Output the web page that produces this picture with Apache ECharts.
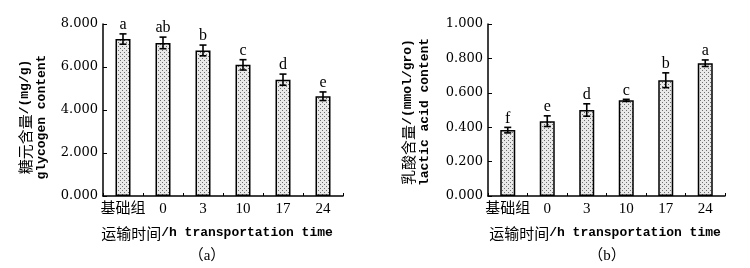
<!DOCTYPE html>
<html>
<head>
<meta charset="utf-8">
<script src="https://cdn.jsdelivr.net/npm/echarts@6/dist/echarts.min.js"></script>
<style>
html,body{margin:0;padding:0;background:#fff;}
#chart{width:750px;height:268px;}
</style>
</head>
<body>
<div id="chart"></div>
<script>
// ---- data ----
const categories = ['基础组', '0', '3', '10', '17', '24'];
const glycogen = [7.30, 7.12, 6.77, 6.10, 5.41, 4.64];
const glycogenErr = [0.24, 0.27, 0.25, 0.24, 0.26, 0.20];
const glycogenLetters = ['a', 'ab', 'b', 'c', 'd', 'e'];
const lactic = [0.383, 0.435, 0.500, 0.556, 0.673, 0.772];
const lacticErr = [0.016, 0.031, 0.036, 0.006, 0.043, 0.019];
const lacticLetters = ['f', 'e', 'd', 'c', 'b', 'a'];
const glycogenTicks = [0, 2, 4, 6, 8];
const lacticTicks = [0, 0.2, 0.4, 0.6, 0.8, 1.0];

const MONO = '"Liberation Mono", "Noto Sans CJK SC", monospace';
const SERIF = '"Liberation Serif", "Noto Sans CJK SC", serif';
const DSERIF = '"DejaVu Serif", serif';
const CJK = '"Noto Sans CJK SC", sans-serif';

// dotted fill pattern
const pc = document.createElement('canvas');
pc.width = 4; pc.height = 4;
const pctx = pc.getContext('2d');
pctx.fillStyle = '#e9e9e9';
pctx.fillRect(0, 0, 4, 4);
pctx.fillStyle = '#6e6e6e';
pctx.fillRect(0, 0, 1, 1);
pctx.fillRect(2, 2, 1, 1);
const pattern = { image: pc, repeat: 'repeat' };

const richStyles = {
  c: { fontFamily: CJK, fontSize: 15, fill: '#000', color: '#000' },
  m: { fontFamily: MONO, fontSize: 13, fontWeight: 'bold', fill: '#000', color: '#000' }
};

function makeX(gi) {
  return {
    gridIndex: gi, type: 'category', data: categories,
    axisLine: { lineStyle: { color: '#000', width: 1.5 } },
    axisTick: { show: true, inside: true, length: 3, lineStyle: { color: '#000', width: 1 } },
    axisLabel: { color: '#000', fontSize: 15, margin: 6, fontFamily: SERIF, interval: 0 }
  };
}
function makeY(gi, ticks) {
  return {
    gridIndex: gi, type: 'value', min: ticks[0], max: ticks[ticks.length - 1],
    interval: ticks[1] - ticks[0],
    axisLine: { show: true, lineStyle: { color: '#000', width: 1.5 } },
    axisTick: { show: true, inside: true, length: 4, lineStyle: { color: '#000', width: 1 } },
    splitLine: { show: false },
    axisLabel: { color: '#000', fontSize: 13, margin: 5, fontFamily: DSERIF,
      formatter: v => v.toFixed(3) }
  };
}
function barSeries(gi, vals) {
  return {
    type: 'bar', xAxisIndex: gi, yAxisIndex: gi, data: vals, barWidth: 15,
    itemStyle: { color: pattern, borderColor: '#000', borderWidth: 1.5 },
    silent: true
  };
}
function errSeries(gi, vals, errs, letters) {
  return {
    type: 'custom', xAxisIndex: gi, yAxisIndex: gi, z: 5,
    data: vals.map((v, i) => [i, v, errs[i]]),
    encode: { x: 0, y: 1 },
    renderItem: function (params, api) {
      const i = api.value(0), v = api.value(1), e = api.value(2);
      const top = api.coord([i, v + e]);
      const bot = api.coord([i, v - e]);
      const cw = 3.5;
      const ls = { stroke: '#000', lineWidth: 1.6 };
      return {
        type: 'group',
        children: [
          { type: 'line', shape: { x1: top[0], y1: top[1], x2: bot[0], y2: bot[1] }, style: ls },
          { type: 'line', shape: { x1: top[0] - cw, y1: top[1], x2: top[0] + cw, y2: top[1] }, style: ls },
          { type: 'line', shape: { x1: bot[0] - cw, y1: bot[1], x2: bot[0] + cw, y2: bot[1] }, style: ls },
          { type: 'text', style: { text: letters[params.dataIndex], x: top[0], y: top[1] - 1,
              align: 'center', verticalAlign: 'bottom', fill: '#000', fontSize: 16, fontFamily: SERIF } }
        ]
      };
    }
  };
}
function richText(cjk, latin, x, y, rot) {
  const el = { type: 'text', x: x, y: y,
    style: { text: '{c|' + cjk + '}{m|' + latin + '}', rich: richStyles,
      align: 'center', verticalAlign: 'middle', fill: '#000' } };
  if (rot) el.rotation = Math.PI / 2;
  return el;
}
function monoText(text, x, y, rot) {
  const el = { type: 'text', x: x, y: y,
    style: { text: text, align: 'center', verticalAlign: 'middle', fill: '#000',
      fontSize: 13, fontWeight: 'bold', fontFamily: MONO } };
  if (rot) el.rotation = Math.PI / 2;
  return el;
}
function capText(text, x, y) {
  return { type: 'text', x: x, y: y,
    style: { text: text, align: 'center', verticalAlign: 'middle', fill: '#000',
      fontSize: 15, fontFamily: SERIF } };
}

const chart = echarts.init(document.getElementById('chart'), null, { renderer: 'canvas' });
chart.setOption({
  animation: false,
  backgroundColor: '#fff',
  grid: [
    { left: 103, top: 24, width: 240, height: 172 },
    { left: 488, top: 24, width: 237, height: 172 }
  ],
  xAxis: [makeX(0), makeX(1)],
  yAxis: [makeY(0, glycogenTicks), makeY(1, lacticTicks)],
  series: [
    barSeries(0, glycogen),
    errSeries(0, glycogen, glycogenErr, glycogenLetters),
    barSeries(1, lactic),
    errSeries(1, lactic, lacticErr, lacticLetters)
  ],
  graphic: [
    richText('糖元含量', '/(mg/g)', 25, 117, true),
    monoText('glycogen content', 42, 117, true),
    richText('乳酸含量', '/(mmol/gro)', 408, 112, true),
    monoText('lactic acid content', 425, 112, true),
    richText('运输时间', '/h transportation time', 217, 233, false),
    richText('运输时间', '/h transportation time', 605, 233, false),
    capText('（a）', 207, 256),
    capText('（b）', 607, 256)
  ]
});
</script>
</body>
</html>
